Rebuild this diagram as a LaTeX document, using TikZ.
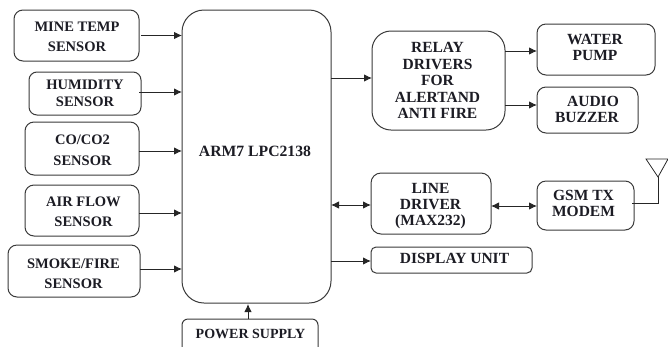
\documentclass[tikz,border=0pt]{standalone}
\usepackage{fontspec}
\setmainfont{Liberation Serif}
\usetikzlibrary{arrows.meta,calc}
\definecolor{edge}{HTML}{3A3A3A}
\definecolor{ink}{HTML}{1C1C24}
\newcommand{\tfs}{14.5}
% \tx{dx}{dy}{leading}{lines}: text in a box, offset from the box centre
\newcommand{\tx}[4]{\makebox[0pt]{\hspace*{#1pt}\raisebox{#2pt}[0pt][0pt]{\fontsize{\tfs}{#3}\selectfont\bfseries\begin{tabular}[c]{@{}c@{}}#4\end{tabular}}}}
% \bx{name}{x1}{y1}{x2}{y2}{radius}{text}
\newcommand{\bx}[7]{\pgfmathsetmacro{\bw}{#4-#2}\pgfmathsetmacro{\bh}{#5-#3}
 \node[blockbox,rounded corners=#6pt,minimum width=\bw pt,minimum height=\bh pt] (#1) at ({(#2+#4)/2},{(#3+#5)/2}) {#7};}
\tikzset{
 blockbox/.style={draw=edge,line width=1pt,inner sep=0pt,outer sep=0pt,text=ink,fill=white},
 conn/.style={draw=black!85,line width=0.9pt,-{Latex[length=8pt,width=7.5pt]}},
 biconn/.style={draw=black!85,line width=0.9pt,{Latex[length=8pt,width=7.5pt]}-{Latex[length=8pt,width=7.5pt]}},
 ant/.style={draw=black!85,line width=0.8pt}
}
\begin{document}
\begin{tikzpicture}[x=1pt,y=-1pt]
\useasboundingbox (0,0) rectangle (668,346);
\clip (0,0) rectangle (668,346);
\bx{mine}{14}{10}{139}{61}{9}{\tx{1}{-5.5}{20.5}{MINE TEMP\\SENSOR}}
\bx{hum}{29}{72}{141}{115}{8}{\tx{0}{-5}{17}{HUMIDITY\\SENSOR}}
\bx{co}{25}{122}{139}{175}{9}{\tx{1}{-6}{20.5}{CO/CO2\\SENSOR}}
\bx{air}{25}{185}{139}{236}{9}{\tx{3}{-5.5}{20.5}{AIR FLOW\\SENSOR}}
\bx{smoke}{8}{245}{140}{297}{9}{\tx{-1}{-7}{20.5}{SMOKE/FIRE\\SENSOR}}
\renewcommand{\tfs}{15.7}
\bx{arm}{182}{10}{331}{303}{22}{\tx{-3}{-1}{15}{ARM7 LPC2138}}
\renewcommand{\tfs}{14}
\bx{power}{182}{319}{318}{356}{6}{\tx{1}{-1.5}{15}{POWER SUPPLY}}
\renewcommand{\tfs}{15.5}
\bx{relay}{372}{31}{505}{130}{19}{\tx{-2}{-5.5}{16.5}{RELAY\\DRIVERS\\FOR\\ALERTAND\\ANTI FIRE}}
\bx{water}{537}{24}{655}{75}{9}{\tx{-2}{-3.5}{16}{WATER\\PUMP}}
\bx{audio}{537}{87}{638}{133}{9}{\tx{-1}{-4.5}{16}{\hspace*{12pt}AUDIO\\BUZZER}}
\bx{line}{371}{173}{491}{234}{10}{\tx{-1}{-6}{16}{LINE\\DRIVER\\(MAX232)}}
\bx{gsm}{537}{181}{634}{230}{9}{\tx{-4}{-3.5}{16}{GSM TX\\MODEM}}
\bx{disp}{371}{247}{532}{273}{5}{\tx{6}{-4}{15}{DISPLAY UNIT}}
\draw[conn] (mine.east) ++(2pt,0) -- (mine.east -| arm.west);
\draw[conn] (hum.east) ++(-2pt,1.5pt) -- ([yshift=1.5pt]hum.east -| arm.west);
\draw[conn] (co.east) ++(0,-2.5pt) -- ([yshift=-2.5pt]co.east -| arm.west);
\draw[conn] (air.east) ++(0,-2.5pt) -- ([yshift=-2.5pt]air.east -| arm.west);
\draw[conn] (smoke.east) ++(0,2pt) -- ([yshift=2pt]smoke.east -| arm.west);
\draw[conn] (power.north -| 248,0) -- (248,304);
\draw[conn] ([yshift=2.5pt]relay.west -| arm.east) -- ([yshift=2.5pt]relay.west);
\draw[conn] ([yshift=-1.5pt]water.west -| relay.east) -- ([yshift=-1.5pt]water.west);
\draw[conn] ([yshift=5pt]audio.west -| relay.east) -- ([yshift=5pt]audio.west);
\draw[biconn] ([yshift=-1.5pt]line.west -| arm.east) -- ([yshift=-1.5pt]line.west);
\draw[biconn] ([yshift=-2.5pt]line.east) -- ([yshift=-0.5pt]gsm.west);
\draw[conn] ([yshift=-1pt]disp.west -| arm.east) -- ([yshift=-1pt]disp.west);
\coordinate (apex) at (658,177);
\draw[ant] ([yshift=2.5pt]gsm.east) ++(-2pt,0) -| (apex);
\draw[ant] (apex) -- (646,159) -- (668,159) -- cycle;
\end{tikzpicture}
\end{document}
